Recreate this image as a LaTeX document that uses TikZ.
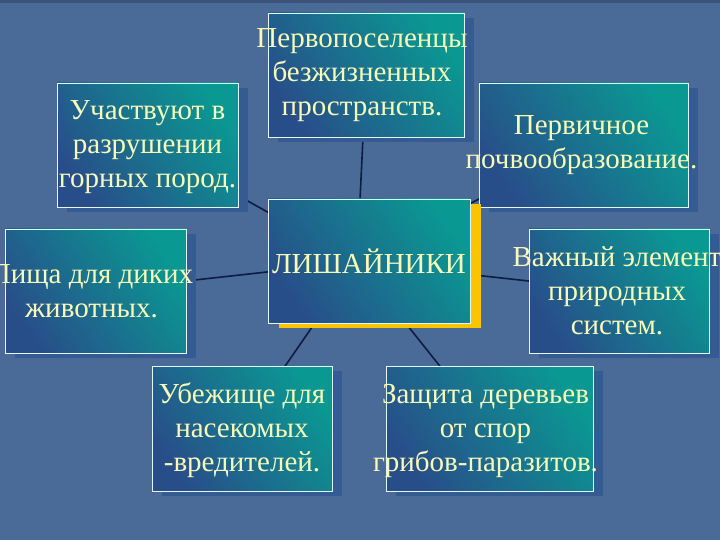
\documentclass[tikz,border=0pt]{standalone}
\usepackage{fontspec}
\setmainfont{Liberation Serif}
\usetikzlibrary{shadows}
\definecolor{bgblue}{RGB}{74,106,152}
\definecolor{bgdark}{RGB}{58,84,124}
\definecolor{boxteal}{RGB}{10,152,146}
\definecolor{boxblue}{RGB}{40,78,138}
\definecolor{shblue}{RGB}{52,92,146}
\definecolor{txtyel}{RGB}{248,250,184}
\definecolor{linenavy}{RGB}{12,28,68}
\definecolor{shyel}{RGB}{250,196,0}
\definecolor{edgewhite}{RGB}{228,246,246}
\pgfdeclarelayer{bg}
\pgfdeclarelayer{links}
\pgfsetlayers{bg,links,main}
\begin{document}
\begin{tikzpicture}[x=1pt,y=-1pt,
  box/.style={draw=edgewhite, line width=0.8pt, top color=boxteal, bottom color=boxblue,
    shading angle=-55, inner sep=0pt,
    drop shadow={shadow xshift=10pt, shadow yshift=-5pt, fill=shblue, opacity=1}},
  hubbox/.style={draw=edgewhite, line width=0.8pt, top color=boxteal, bottom color=boxblue,
    shading angle=-55, inner sep=0pt,
    drop shadow={shadow xshift=11pt, shadow yshift=-5pt, fill=shyel, opacity=1}},
  txt/.style={text=txtyel, font=\fontsize{29}{34}\selectfont, align=center, inner sep=0pt},
  link/.style={draw=linenavy, line width=1.6pt}]
\useasboundingbox (0,0) rectangle (720,540);
\clip (0,0) rectangle (720,540);
\begin{pgfonlayer}{bg}
  \fill[bgblue] (0,0) rectangle (720,540);
  \fill[bgdark] (0,0) rectangle (720,3);
\end{pgfonlayer}

\coordinate (hub) at (357,262);

\node[box, minimum width=196pt, minimum height=124pt,
  label={[txt, xshift=-4pt]center:Первопоселенцы\\безжизненных\\пространств.}] (pioneers) at (366,75) {};
\node[box, minimum width=181pt, minimum height=124pt,
  label={[txt, yshift=-2pt]center:Участвуют в\\разрушении\\горных пород.}] (rocks) at (147.5,145) {};
\node[box, minimum width=209pt, minimum height=124pt,
  label={[txt, xshift=-2pt]center:Первичное\\почвообразование.}] (soil) at (583.5,145) {};
\node[box, minimum width=181pt, minimum height=124pt,
  label={[txt, xshift=-4pt]center:Пища для диких\\животных.}] (food) at (95.5,291) {};
\node[box, minimum width=180pt, minimum height=124pt,
  label={[txt, xshift=-2pt]center:Важный элемент\\природных\\систем.}] (element) at (619,291) {};
\node[box, minimum width=180pt, minimum height=125pt,
  label={[txt, yshift=-2pt]center:Убежище для\\насекомых\\-вредителей.}] (shelter) at (242,428.5) {};
\node[box, minimum width=207pt, minimum height=125pt,
  label={[txt, xshift=-4pt, yshift=-2pt]center:Защита деревьев\\от спор\\грибов-паразитов.}] (protect) at (489.5,428.5) {};
\node[hubbox, txt, minimum width=202pt, minimum height=124pt] (lichens) at (369,261) {ЛИШАЙНИКИ};

\begin{pgfonlayer}{links}
  \foreach \n in {pioneers,rocks,soil,food,element,shelter,protect}
    \draw[link] (hub) -- (\n.center);
\end{pgfonlayer}
\end{tikzpicture}
\end{document}
